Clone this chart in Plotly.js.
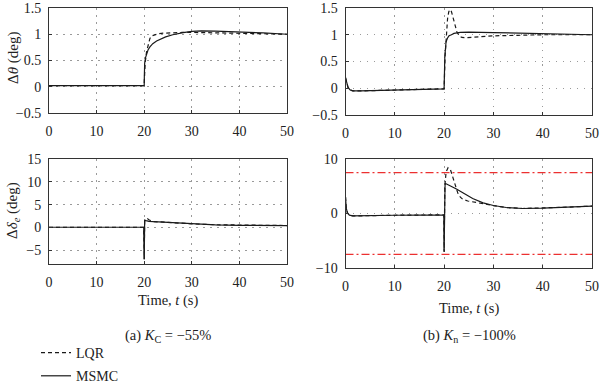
<!DOCTYPE html>
<html><head><meta charset="utf-8">
<script src="https://cdn.plot.ly/plotly-3.0.1.min.js"></script>
<style>html,body{margin:0;padding:0;background:#fff}</style>
</head><body><div id="chart" style="width:600px;height:392px"></div>
<script>
const seriesNames = ['LQR', 'MSMC'];
const xTicks = [0, 10, 20, 30, 40, 50];
const yTicksTheta = [-0.5, 0, 0.5, 1, 1.5];
const yTicksDeltaA = [-5, 0, 5, 10, 15];
const yTicksDeltaB = [-10, 0, 10];

// (a) K_C = -55%, pitch angle
const tA_thLQR = [0, 20, 20.02, 20.2, 20.5, 20.8, 21.2, 21.6, 22.2, 23, 24, 26, 28, 30, 35, 40, 45, 50];
const yA_thLQR = [0.02, 0.02, 0.1, 0.45, 0.67, 0.8, 0.92, 0.97, 0.99, 1.01, 1.02, 1.03, 1.035, 1.035, 1.03, 1.02, 1.01, 1.0];
const tA_thMSMC = [0, 20, 20.03, 20.1, 20.3, 20.5, 20.8, 21.2, 21.8, 22.6, 23.5, 24.5, 26, 27, 28.2, 30, 32, 35, 40, 45, 50];
const yA_thMSMC = [0.02, 0.02, 0.2, 0.45, 0.56, 0.63, 0.7, 0.76, 0.82, 0.87, 0.91, 0.95, 0.99, 1.01, 1.03, 1.055, 1.065, 1.06, 1.045, 1.025, 1.0];

// (b) K_n = -100%, pitch angle
const tB_thLQR = [0, 0.2, 0.5, 0.9, 1.5, 3, 6, 10, 15, 20, 20.2, 20.4, 20.7, 20.95, 21.2, 21.5, 22, 22.6, 23.1, 23.6, 24.7, 26.7, 30, 35, 40, 50];
const yB_thLQR = [0.2, 0.1, 0.02, -0.03, -0.05, -0.05, -0.045, -0.03, -0.02, -0.01, 0.6, 0.96, 1.3, 1.43, 1.47, 1.43, 1.27, 1.05, 0.98, 0.95, 0.945, 0.96, 0.98, 0.99, 1.0, 1.0];
const tB_thMSMC = [0, 0.2, 0.5, 0.9, 1.5, 3, 6, 10, 15, 20, 20.15, 20.4, 20.7, 21, 21.5, 22, 23.3, 25, 30, 35, 40, 45, 50];
const yB_thMSMC = [0.2, 0.1, 0.02, -0.03, -0.05, -0.05, -0.045, -0.03, -0.02, -0.01, 0.6, 0.87, 0.94, 0.98, 1.0, 1.025, 1.045, 1.05, 1.04, 1.03, 1.02, 1.01, 1.0];

// (a) elevator deflection
const tA_deLQR = [0, 19.9, 20.0, 20.1, 20.4, 20.7, 21, 21.5, 22, 25, 30, 35, 40, 45, 50];
const yA_deLQR = [0.05, 0.05, -6.9, 1.5, 1.7, 1.9, 1.7, 1.4, 1.3, 1.1, 0.8, 0.6, 0.5, 0.45, 0.42];
const tA_deMSMC = [0, 19.9, 20.0, 20.1, 20.4, 21, 22, 25, 30, 35, 40, 45, 50];
const yA_deMSMC = [0.05, 0.05, -7.0, 1.6, 1.5, 1.35, 1.27, 1.1, 0.78, 0.58, 0.48, 0.44, 0.42];

// (b) elevator deflection
const tB_deLQR = [0, 0.15, 0.4, 0.8, 1.5, 3, 6, 10, 15, 19.95, 20.0, 20.15, 20.4, 20.8, 21.3, 21.9, 22.4, 22.8, 23.3, 23.8, 24.8, 25.8, 27.9, 30, 32.6, 35.9, 40, 45, 50];
const yB_deLQR = [3.0, 1.0, 0.1, -0.3, -0.45, -0.45, -0.4, -0.32, -0.28, -0.25, -7.0, 5.0, 7.6, 8.4, 8.0, 6.1, 4.6, 3.7, 3.0, 2.6, 2.3, 2.1, 1.8, 1.45, 1.1, 0.92, 0.98, 1.17, 1.35];
const tB_deMSMC = [0, 0.15, 0.4, 0.8, 1.5, 3, 6, 10, 15, 19.95, 20.0, 20.2, 20.4, 21, 22.5, 23.8, 25.8, 27.9, 30, 32.6, 35.9, 40, 45, 50];
const yB_deMSMC = [3.0, 1.0, 0.1, -0.3, -0.45, -0.45, -0.4, -0.32, -0.28, -0.25, -7.0, 5.5, 5.45, 5.2, 4.5, 3.8, 2.76, 1.96, 1.47, 1.1, 0.92, 0.98, 1.17, 1.35];

// deflection limits in (b)
const tLimit = [0, 50];
const yLimitUpper = [7.5, 7.5];
const yLimitLower = [-7.5, -7.5];

const FONT = 'Liberation Serif, Times New Roman, serif';
const dashLQR = '4px,3px';
const lineCol = '#1a1a1a';

function tr(x, y, xa, ya, name, legend) {
  return {
    x: x, y: y, xaxis: xa, yaxis: ya, type: 'scatter', mode: 'lines',
    name: name, showlegend: legend, legendgroup: name,
    line: {color: lineCol, width: 1.2, dash: name === 'LQR' ? dashLQR : 'solid'},
    hoverinfo: 'skip'
  };
}
function lim(y) {
  return {x: tLimit, y: y, xaxis: 'x4', yaxis: 'y4', type: 'scatter', mode: 'lines', showlegend: false,
    line: {color: 'rgb(236,48,48)', width: 1.2, dash: '8px,3px,2px,3px'}, hoverinfo: 'skip'};
}

const data = [
  lim(yLimitUpper), lim(yLimitLower),
  tr(tA_thLQR, yA_thLQR, 'x', 'y', seriesNames[0], true),
  tr(tA_thMSMC, yA_thMSMC, 'x', 'y', seriesNames[1], true),
  tr(tB_thLQR, yB_thLQR, 'x2', 'y2', seriesNames[0], false),
  tr(tB_thMSMC, yB_thMSMC, 'x2', 'y2', seriesNames[1], false),
  tr(tA_deLQR, yA_deLQR, 'x3', 'y3', seriesNames[0], false),
  tr(tA_deMSMC, yA_deMSMC, 'x3', 'y3', seriesNames[1], false),
  tr(tB_deLQR, yB_deLQR, 'x4', 'y4', seriesNames[0], false),
  tr(tB_deMSMC, yB_deMSMC, 'x4', 'y4', seriesNames[1], false)
];

function axisBase() {
  return {showline: true, mirror: true,
    linecolor: '#333', linewidth: 1, ticks: 'inside', ticklen: 3, tickcolor: '#333',
    showgrid: true, gridcolor: '#9a9a9a', griddash: '1.5px,5.5px', gridwidth: 1, zeroline: false,
    tickfont: {family: FONT, size: 14, color: '#222'}, fixedrange: true};
}
function xa(dom, anchor) {
  return Object.assign(axisBase(), {domain: dom, anchor: anchor, range: [0, 50], tickvals: xTicks, ticklabelstandoff: 5});
}
function ya(dom, anchor, range, ticks) {
  return Object.assign(axisBase(), {domain: dom, anchor: anchor, range: range, tickvals: ticks, ticklabelstandoff: 4});
}

const W = 600, H = 392;
const dxL = [49 / W, 287 / W], dxR = [345.5 / W, 592 / W];
function ann(text, px, py, extra) {
  return Object.assign({text: text, xref: 'paper', yref: 'paper', x: px / W, y: 1 - py / H,
    xanchor: 'center', yanchor: 'middle', showarrow: false, font: {size: 14.5}}, extra || {});
}
const layout = {
  width: W, height: H, margin: {l: 0, r: 0, t: 0, b: 0},
  paper_bgcolor: '#fff', plot_bgcolor: '#fff',
  font: {family: FONT, size: 14, color: '#222'},
  xaxis: xa(dxL, 'y'),
  yaxis: ya([1 - 113 / H, 1 - 8 / H], 'x', [-0.5, 1.5], yTicksTheta),
  xaxis2: xa(dxR, 'y2'),
  yaxis2: ya([1 - 115 / H, 1 - 8 / H], 'x2', [-0.5, 1.5], yTicksTheta),
  xaxis3: xa(dxL, 'y3'),
  yaxis3: ya([1 - 264 / H, 1 - 159 / H], 'x3', [-8, 15], yTicksDeltaA),
  xaxis4: xa(dxR, 'y4'),
  yaxis4: ya([1 - 268 / H, 1 - 159 / H], 'x4', [-10, 10], yTicksDeltaB),
  showlegend: true,
  legend: {x: 36 / W, y: 1 - 337 / H, xanchor: 'left', yanchor: 'top', bgcolor: 'rgba(0,0,0,0)',
    font: {family: FONT, size: 14, color: '#222'}, traceorder: 'grouped', tracegroupgap: 2, itemwidth: 30},
  annotations: [
    ann('Δ<i>θ</i> (deg)', 13, 58, {textangle: -90, font: {size: 15}}),
    ann('Δ<i>δ</i><sub><i>e</i></sub> (deg)', 13, 211, {textangle: -90, font: {size: 15}}),
    ann('Time, <i>t</i> (s)', 168, 300),
    ann('Time, <i>t</i> (s)', 469, 308),
    ann('(a) <i>K</i><sub>C</sub> = −55%', 168, 336),
    ann('(b) <i>K</i><sub>n</sub> = −100%', 469, 336)
  ]
};
Plotly.newPlot('chart', data, layout, {staticPlot: true, displayModeBar: false});
</script></body></html>
